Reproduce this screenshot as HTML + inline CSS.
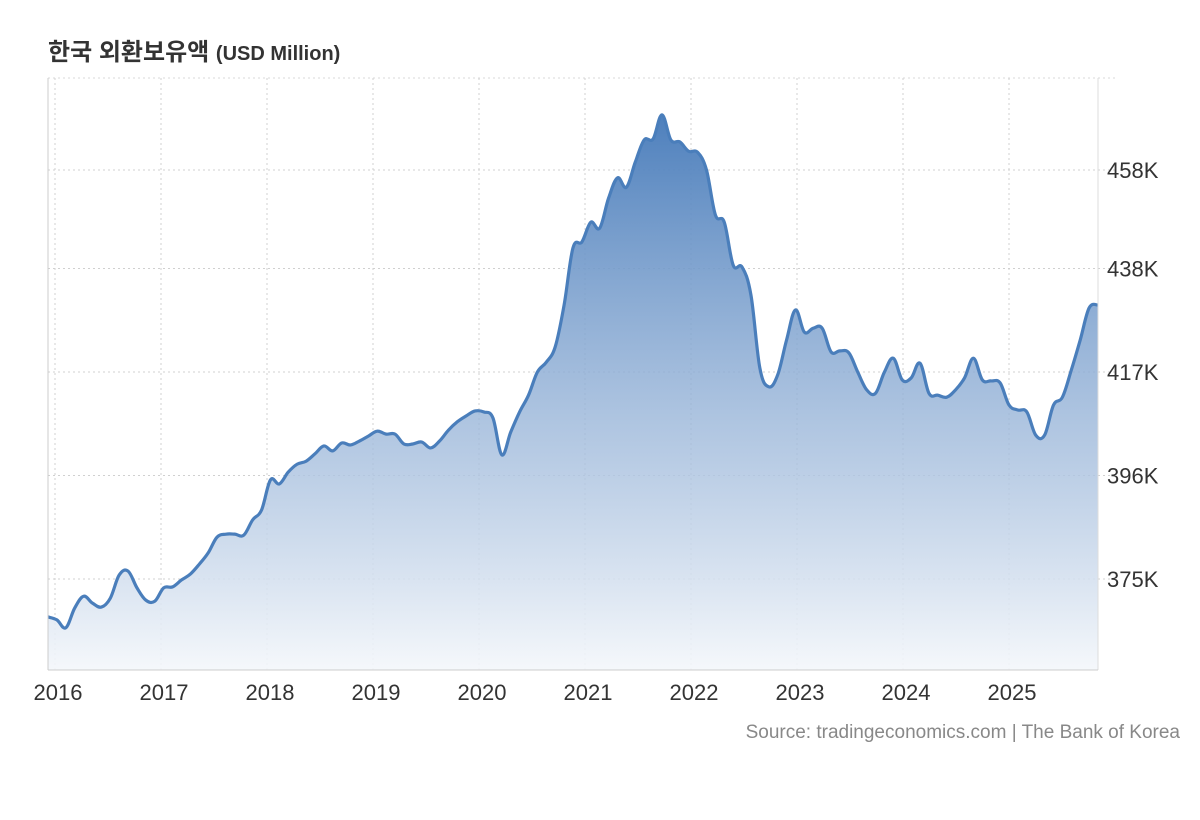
<!DOCTYPE html>
<html><head><meta charset="utf-8">
<style>
body{margin:0;background:#fff;width:1200px;height:820px;overflow:hidden;font-family:"Liberation Sans","Noto Sans CJK KR",sans-serif;}
svg{display:block}
</style></head>
<body>
<svg id="chart" width="1200" height="820" xmlns="http://www.w3.org/2000/svg">
<defs>
<linearGradient id="fillGrad" x1="0" y1="0" x2="0" y2="1">
<stop offset="0" stop-color="#4a7dbb" stop-opacity="0.98"/>
<stop offset="0.55" stop-color="#9ab6d9" stop-opacity="0.8"/>
<stop offset="1" stop-color="#f4f7fb" stop-opacity="0.9"/>
</linearGradient>
</defs>
<text x="48" y="60" font-size="24" font-weight="bold" fill="#333">한국 외환보유액 <tspan font-size="20">(USD Million)</tspan></text>
<g id="grid"></g>
<g id="area"></g>
<g id="axes"></g>
<text x="1180" y="738" text-anchor="end" font-size="19" fill="#888">Source: tradingeconomics.com | The Bank of Korea</text>
</svg>
<script>
const values = [367.3,366.7,365.1,369.1,371.5,370.1,369.3,371.1,375.8,376.6,373.2,370.7,370.5,
373.2,373.4,374.8,376.0,378.0,380.3,383.5,384.1,384.1,383.9,387.0,389.0,
395.1,394.3,396.7,398.3,398.9,400.4,402.0,401.0,402.6,402.2,403.0,404.0,
405.0,404.4,404.4,402.4,402.4,402.8,401.6,403.0,405.2,406.9,408.1,409.1,
408.9,407.7,400.2,404.8,408.9,412.3,417.0,419.0,422.1,430.6,442.2,443.4,
447.4,446.2,452.3,456.4,454.5,459.6,464.1,464.3,469.2,464.1,463.7,461.8,
461.6,458.0,448.9,447.4,438.7,438.3,432.6,417.8,414.0,416.4,423.5,429.6,
425.1,425.9,425.9,421.1,421.3,420.9,417.0,413.4,412.7,417.0,419.8,415.4,
415.8,418.8,412.7,412.3,411.9,413.4,415.8,419.8,415.4,415.2,414.8,410.3,
409.3,408.9,404.2,404.2,410.3,411.9,417.4,423.5,430.0,430.6];
const yTicks = [375,396,417,438,458];
const yTickLabels = ["375K","396K","417K","438K","458K"];
const xTickYears = [2016,2017,2018,2019,2020,2021,2022,2023,2024,2025];

const L=48,R=1098,T=78,B=670;
const ns="http://www.w3.org/2000/svg";
function xScale(i){return L+i*(R-L)/(values.length-1);}
function yScale(v){return 579-(v-375)*(579-170)/(458-375);}
function xYear(y){return 55+(y-2016)*106;}
function mk(tag,attrs,parent){const e=document.createElementNS(ns,tag);for(const k in attrs)e.setAttribute(k,attrs[k]);parent.appendChild(e);return e;}
const grid=document.getElementById('grid'),axes=document.getElementById('axes'),area=document.getElementById('area');

mk('line',{x1:L,y1:T,x2:R+18,y2:T,stroke:'#d8d8d8','stroke-dasharray':'2,3'},grid);
yTicks.forEach((t,k)=>{
  const y=yScale(t);
  const g=mk('line',{x1:L,y1:y,x2:R+18,y2:y,stroke:'#d0d0d0','stroke-dasharray':'2,3'},grid);
  
  
  const lb=mk('text',{x:1107,y:y+8,'font-size':22,fill:'#333'},axes);
  lb.textContent=yTickLabels[k];
  
  
});
xTickYears.forEach(yr=>{
  const x=xYear(yr);
  const g=mk('line',{x1:x,y1:T,x2:x,y2:B,stroke:'#d0d0d0','stroke-dasharray':'2,3'},grid);
  
  
  const lb=mk('text',{x:x+3,y:700,'font-size':22,fill:'#333','text-anchor':'middle'},axes);
  lb.textContent=String(yr);
  
  
});
const al=mk('line',{x1:L,y1:T,x2:L,y2:B,stroke:'#ccc'},axes);


const ar=mk('line',{x1:R,y1:T,x2:R,y2:B,stroke:'#ddd'},axes);


const ab=mk('line',{x1:L,y1:B,x2:R,y2:B,stroke:'#ccc'},axes);



const pts=values.map((v,i)=>[xScale(i),yScale(v)]);
let d='M'+pts[0][0]+','+pts[0][1];
const tk=0.18;
for(let i=0;i<pts.length-1;i++){
  const p0=pts[Math.max(i-1,0)],p1=pts[i],p2=pts[i+1],p3=pts[Math.min(i+2,pts.length-1)];
  const c1=[p1[0]+(p2[0]-p0[0])*tk,p1[1]+(p2[1]-p0[1])*tk];
  const c2=[p2[0]-(p3[0]-p1[0])*tk,p2[1]-(p3[1]-p1[1])*tk];
  d+=' C'+c1[0]+','+c1[1]+' '+c2[0]+','+c2[1]+' '+p2[0]+','+p2[1];
}
const fill=mk('path',{d:d+' L'+R+','+B+' L'+L+','+B+' Z',fill:'url(#fillGrad)'},area);


const line=mk('path',{d:d,fill:'none',stroke:'#4a7ebb','stroke-width':3.2,'stroke-linejoin':'round'},area);


</script>
</body></html>
